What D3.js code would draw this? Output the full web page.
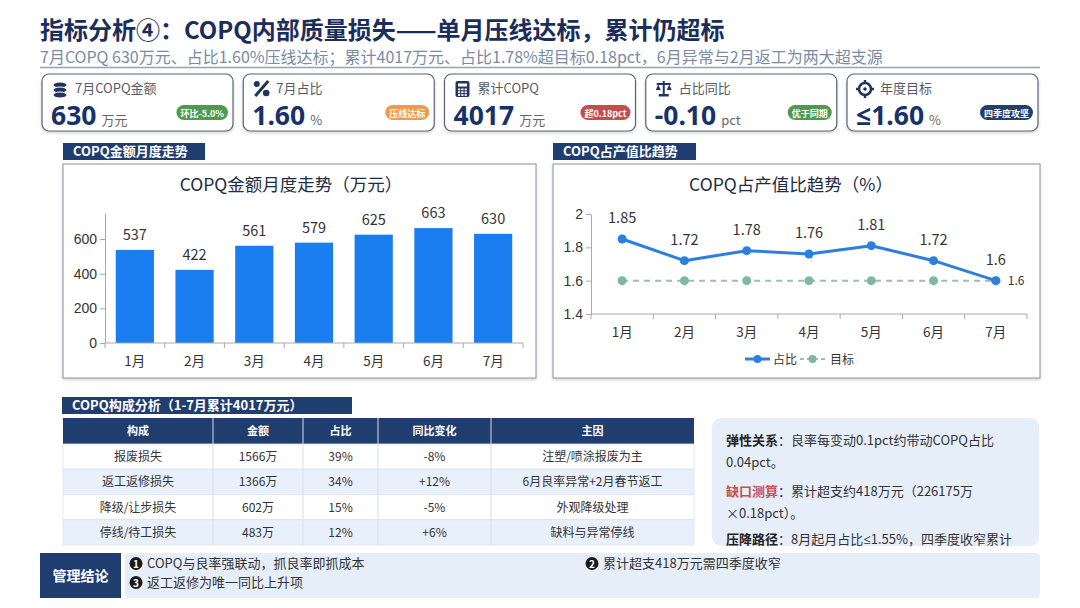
<!DOCTYPE html>
<html>
<head>
<meta charset="utf-8">
<script src="https://cdn.jsdelivr.net/npm/d3@7"></script>
<style>
  html, body { margin: 0; padding: 0; background: #fff; }
  svg { display: block; font-family: 'Noto Sans CJK SC', 'Noto Sans', sans-serif; }
</style>
</head>
<body>
<svg id="chart" width="1080" height="608"></svg>
<script>
// ---- data ----
const months = ['1月', '2月', '3月', '4月', '5月', '6月', '7月'];
const copqAmount = [537, 422, 561, 579, 625, 663, 630];
const copqRatio = [1.85, 1.72, 1.78, 1.76, 1.81, 1.72, 1.6];
const ratioTarget = [1.6, 1.6, 1.6, 1.6, 1.6, 1.6, 1.6];
const amountTicks = [0, 200, 400, 600];
const ratioTicks = [1.4, 1.6, 1.8, 2];

const kpiLabels = ['7月COPQ金额', '7月占比', '累计COPQ', '占比同比', '年度目标'];
const kpiValues = ['630', '1.60', '4017', '-0.10', '≤1.60'];
const kpiUnits = ['万元', '%', '万元', 'pct', '%'];
const kpiBadges = ['环比-5.0%', '压线达标', '超0.18pct', '优于同期', '四季度攻坚'];

const tableHeads = ['构成', '金额', '占比', '同比变化', '主因'];
const costTypes = ['报废损失', '返工返修损失', '降级/让步损失', '停线/待工损失'];
const costAmounts = ['1566万', '1366万', '602万', '483万'];
const costShares = ['39%', '34%', '15%', '12%'];
const costYoY = ['-8%', '+12%', '-5%', '+6%'];
const costCauses = ['注塑/喷涂报废为主', '6月良率异常+2月春节返工', '外观降级处理', '缺料与异常停线'];

const conclusions = ['COPQ与良率强联动，抓良率即抓成本', '累计超支418万元需四季度收窄', '返工返修为唯一同比上升项'];

// ---- styles ----
const navy = '#1f3d6e';
const titleColor = '#1b2d5b';
const valueColor = '#17316b';
const barColor = '#1b7ef0';
const lineColor = '#2d7fdf';
const targetColor = '#7db9a2';
const badgeColors = ['#4f9a50', '#ef9a4c', '#c54d4f', '#4f9a50', '#233f6c'];
const latinFont = "'Noto Sans', 'Open Sans', sans-serif";

const svg = d3.select('#chart');

const defs = svg.append('defs');
const shadow = defs.append('filter').attr('id', 'shadow')
    .attr('x', '-5%').attr('y', '-10%').attr('width', '110%').attr('height', '130%');
shadow.append('feDropShadow')
    .attr('dx', 0).attr('dy', 1.5).attr('stdDeviation', 1.5)
    .attr('flood-color', '#000').attr('flood-opacity', 0.18);

// ---- header ----
svg.append('text')
    .attr('x', 40).attr('y', 39)
    .attr('font-size', 24).attr('font-weight', 700)
    .attr('fill', titleColor)
    .text('指标分析④：COPQ内部质量损失——单月压线达标，累计仍超标');

svg.append('text')
    .attr('x', 40).attr('y', 63)
    .attr('font-size', 16)
    .attr('fill', '#7b8ba3')
    .text('7月COPQ 630万元、占比1.60%压线达标；累计4017万元、占比1.78%超目标0.18pct，6月异常与2月返工为两大超支源');

svg.append('line')
    .attr('x1', 40).attr('x2', 1040).attr('y1', 67.5).attr('y2', 67.5)
    .attr('stroke', '#9aa1aa').attr('stroke-width', 1.5);

// ---- KPI cards ----
function drawIcon(g, i) {
    const c = '#22345e';
    if (i === 0) {
        // coins
        [0, 5, 10].forEach((dy) => {
            g.append('ellipse').attr('cx', 8).attr('cy', 4 + dy).attr('rx', 7).attr('ry', 3)
                .attr('fill', c).attr('stroke', '#fff').attr('stroke-width', 1);
        });
    } else if (i === 1) {
        g.append('line').attr('x1', 15).attr('y1', 0).attr('x2', 2).attr('y2', 15)
            .attr('stroke', c).attr('stroke-width', 3);
        g.append('circle').attr('cx', 3.5).attr('cy', 3).attr('r', 3).attr('fill', c);
        g.append('circle').attr('cx', 13).attr('cy', 12).attr('r', 3.3).attr('fill', c);
    } else if (i === 2) {
        g.append('rect').attr('x', 1).attr('y', 0).attr('width', 14).attr('height', 16).attr('rx', 2).attr('fill', c);
        g.append('rect').attr('x', 3.5).attr('y', 2.5).attr('width', 9).attr('height', 3).attr('fill', '#fff');
        [0, 1, 2].forEach((r) => [0, 1, 2].forEach((k) => {
            g.append('rect').attr('x', 3.5 + k * 3.3).attr('y', 7.5 + r * 2.8)
                .attr('width', 2.2).attr('height', 1.8).attr('fill', '#fff');
        }));
    } else if (i === 3) {
        g.append('line').attr('x1', 8).attr('x2', 8).attr('y1', 0).attr('y2', 14).attr('stroke', c).attr('stroke-width', 2);
        g.append('line').attr('x1', 1).attr('x2', 15).attr('y1', 3).attr('y2', 3).attr('stroke', c).attr('stroke-width', 2);
        g.append('rect').attr('x', 3).attr('y', 13).attr('width', 10).attr('height', 2.5).attr('fill', c);
        g.append('path').attr('d', 'M0,9 L2.5,3.5 L5,9 Z').attr('fill', c);
        g.append('path').attr('d', 'M11,9 L13.5,3.5 L16,9 Z').attr('fill', c);
    } else {
        g.append('circle').attr('cx', 8).attr('cy', 8).attr('r', 6).attr('fill', 'none').attr('stroke', c).attr('stroke-width', 2.5);
        g.append('circle').attr('cx', 8).attr('cy', 8).attr('r', 1.8).attr('fill', c);
        [[8, -1, 8, 3], [8, 13, 8, 17], [-1, 8, 3, 8], [13, 8, 17, 8]].forEach((p) => {
            g.append('line').attr('x1', p[0]).attr('y1', p[1]).attr('x2', p[2]).attr('y2', p[3])
                .attr('stroke', c).attr('stroke-width', 2.5);
        });
    }
}

const cardW = 191;
const cardX = d3.scaleLinear().domain([0, 4]).range([42, 847]);

kpiLabels.forEach((label, i) => {
    const g = svg.append('g').attr('transform', `translate(${cardX(i)},74)`);
    g.append('rect')
        .attr('width', cardW).attr('height', 57).attr('rx', 7)
        .attr('fill', '#fff').attr('stroke', '#5b6476').attr('stroke-width', 1.2)
        .attr('filter', 'url(#shadow)');

    drawIcon(g.append('g').attr('transform', 'translate(10,7)'), i);

    g.append('text')
        .attr('x', 33).attr('y', 18.5)
        .attr('font-size', 13).attr('fill', '#555b66')
        .text(label);

    const val = g.append('text')
        .attr('x', 9).attr('y', 51)
        .attr('font-family', latinFont)
        .attr('font-size', 26.5).attr('font-weight', 700)
        .attr('fill', valueColor)
        .text(kpiValues[i]);
    const vw = val.node().getComputedTextLength();

    g.append('text')
        .attr('x', 9 + vw + 5).attr('y', 51)
        .attr('font-size', 13).attr('fill', '#666')
        .text(kpiUnits[i]);

    const badge = g.append('g');
    const bt = badge.append('text')
        .attr('y', 42.5)
        .attr('font-size', 9).attr('font-weight', 700)
        .attr('fill', '#fff').attr('text-anchor', 'middle')
        .text(kpiBadges[i]);
    const bw = bt.node().getComputedTextLength() + 8;
    const bx = cardW - 5 - bw;
    badge.insert('rect', 'text')
        .attr('x', bx).attr('y', 31).attr('width', bw).attr('height', 15).attr('rx', 7.5)
        .attr('fill', badgeColors[i]);
    bt.attr('x', bx + bw / 2);
});

// ---- section labels ----
function sectionLabel(x, y, w, text) {
    svg.append('rect').attr('x', x).attr('y', y).attr('width', w).attr('height', 17).attr('fill', navy);
    svg.append('text')
        .attr('x', x + 10).attr('y', y + 13)
        .attr('font-size', 13).attr('font-weight', 700).attr('fill', '#fff')
        .text(text);
}

function panel(x, y, w, h) {
    svg.append('rect').attr('x', x).attr('y', y).attr('width', w).attr('height', h)
        .attr('fill', '#fff').attr('stroke', '#8a8f98').attr('stroke-width', 1)
        .attr('filter', 'url(#shadow)');
}

sectionLabel(63, 143, 142, 'COPQ金额月度走势');
panel(63, 164, 473, 214);
sectionLabel(553, 143, 143, 'COPQ占产值比趋势');
panel(553, 164, 487, 214);

// ---- bar chart ----
const xb = d3.scaleBand().domain(months).range([105, 523]).paddingInner(0.36).paddingOuter(0.18);
const yb = d3.scaleLinear().domain([0, 750]).range([343, 213]);

svg.append('text')
    .attr('x', 291).attr('y', 191)
    .attr('text-anchor', 'middle').attr('font-size', 17.5).attr('fill', '#202c46')
    .text('COPQ金额月度走势（万元）');

const yAxisB = svg.append('g')
    .attr('transform', 'translate(105,0)')
    .call(d3.axisLeft(yb).tickValues(amountTicks).tickSize(5).tickSizeOuter(0));
yAxisB.selectAll('path, line').attr('stroke', '#aaa');
yAxisB.selectAll('text').attr('font-size', 14).attr('fill', '#333').attr('font-family', 'inherit');

svg.append('g').selectAll('rect')
    .data(copqAmount)
    .enter()
    .append('rect')
    .attr('x', (d, i) => xb(months[i]))
    .attr('y', (d) => yb(d))
    .attr('width', xb.bandwidth())
    .attr('height', (d) => yb(0) - yb(d))
    .attr('fill', barColor);

svg.append('g').selectAll('text')
    .data(copqAmount)
    .enter()
    .append('text')
    .attr('x', (d, i) => xb(months[i]) + xb.bandwidth() / 2)
    .attr('y', (d) => yb(d) - 10)
    .attr('text-anchor', 'middle').attr('font-size', 14.5).attr('fill', '#333')
    .text((d) => d);

function categoryAxis(scaleRange, y, centers) {
    const g = svg.append('g');
    const bounds = d3.scaleLinear().domain([0, months.length]).range(scaleRange);
    g.append('line')
        .attr('x1', scaleRange[0]).attr('x2', scaleRange[1]).attr('y1', y).attr('y2', y)
        .attr('stroke', '#aaa');
    g.selectAll('.tk')
        .data(bounds.ticks(months.length))
        .enter()
        .append('line')
        .attr('x1', (d) => bounds(d)).attr('x2', (d) => bounds(d))
        .attr('y1', y).attr('y2', y + 5)
        .attr('stroke', '#aaa');
    g.selectAll('.lbl')
        .data(months)
        .enter()
        .append('text')
        .attr('x', (d) => centers(d))
        .attr('y', y + 23)
        .attr('text-anchor', 'middle').attr('font-size', 13.5).attr('fill', '#333')
        .text((d) => d);
}

categoryAxis([105, 523], 343, (m) => xb(m) + xb.bandwidth() / 2);

// ---- line chart ----
const xl = d3.scalePoint().domain(months).range([591, 1027]).padding(0.5);
const yl = d3.scaleLinear().domain([1.4, 2]).range([314, 214]);

svg.append('text')
    .attr('x', 791).attr('y', 191)
    .attr('text-anchor', 'middle').attr('font-size', 17.5).attr('fill', '#202c46')
    .text('COPQ占产值比趋势（%）');

const yAxisL = svg.append('g')
    .attr('transform', 'translate(591,0)')
    .call(d3.axisLeft(yl).tickValues(ratioTicks).tickFormat(d3.format('~g')).tickSize(5).tickSizeOuter(0));
yAxisL.selectAll('path, line').attr('stroke', '#aaa');
yAxisL.selectAll('text').attr('font-size', 14).attr('fill', '#333').attr('font-family', 'inherit');

categoryAxis([591, 1027], 314, (m) => xl(m));

const line = d3.line()
    .x((d, i) => xl(months[i]))
    .y((d) => yl(d));

svg.append('path')
    .datum(ratioTarget)
    .attr('d', line)
    .attr('fill', 'none').attr('stroke', '#a9b7b3').attr('stroke-width', 2)
    .attr('stroke-dasharray', '6,5');

svg.append('g').selectAll('circle')
    .data(ratioTarget)
    .enter()
    .append('circle')
    .attr('cx', (d, i) => xl(months[i]))
    .attr('cy', (d) => yl(d))
    .attr('r', 4.5)
    .attr('fill', targetColor);

svg.append('path')
    .datum(copqRatio)
    .attr('d', line)
    .attr('fill', 'none').attr('stroke', lineColor).attr('stroke-width', 3)
    .attr('stroke-linejoin', 'round');

svg.append('g').selectAll('circle')
    .data(copqRatio)
    .enter()
    .append('circle')
    .attr('cx', (d, i) => xl(months[i]))
    .attr('cy', (d) => yl(d))
    .attr('r', 4.5)
    .attr('fill', lineColor);

svg.append('g').selectAll('text')
    .data(copqRatio)
    .enter()
    .append('text')
    .attr('x', (d, i) => xl(months[i]))
    .attr('y', (d) => yl(d) - 16)
    .attr('text-anchor', 'middle').attr('font-size', 14.5).attr('fill', '#333')
    .text((d) => d);

const lastIdx = ratioTarget.length - 1;
svg.append('text')
    .attr('x', xl(months[lastIdx]) + 12)
    .attr('y', yl(ratioTarget[lastIdx]) + 4.5)
    .attr('font-size', 12).attr('fill', '#333')
    .text(ratioTarget[lastIdx]);

// legend
const lg = svg.append('g').attr('transform', 'translate(745,359)');
lg.append('line').attr('x1', 0).attr('x2', 25).attr('y1', 0).attr('y2', 0)
    .attr('stroke', lineColor).attr('stroke-width', 3);
lg.append('circle').attr('cx', 12.5).attr('cy', 0).attr('r', 4).attr('fill', lineColor);
lg.append('text').attr('x', 28).attr('y', 4.5).attr('font-size', 12).attr('fill', '#333').text('占比');
lg.append('line').attr('x1', 55).attr('x2', 80).attr('y1', 0).attr('y2', 0)
    .attr('stroke', '#a9b7b3').attr('stroke-width', 2).attr('stroke-dasharray', '4,3');
lg.append('circle').attr('cx', 67.5).attr('cy', 0).attr('r', 4).attr('fill', targetColor);
lg.append('text').attr('x', 85).attr('y', 4.5).attr('font-size', 12).attr('fill', '#333').text('目标');

// ---- table ----
sectionLabel(62, 397, 290, 'COPQ构成分析（1-7月累计4017万元）');

const colEdges = [63, 213, 303, 378, 491, 694];
const tableRows = costTypes.map((t, i) => [t, costAmounts[i], costShares[i], costYoY[i], costCauses[i]]);
const rowY = d3.scaleLinear().domain([0, tableRows.length]).range([444, 545]);

svg.append('rect')
    .attr('x', colEdges[0]).attr('y', 418)
    .attr('width', colEdges[5] - colEdges[0]).attr('height', 26)
    .attr('fill', navy);

tableHeads.forEach((h, c) => {
    svg.append('text')
        .attr('x', (colEdges[c] + colEdges[c + 1]) / 2).attr('y', 435)
        .attr('text-anchor', 'middle').attr('font-size', 11).attr('font-weight', 700).attr('fill', '#fff')
        .text(h);
});

const rows = svg.append('g').selectAll('g')
    .data(tableRows)
    .enter()
    .append('g');

rows.append('rect')
    .attr('x', colEdges[0])
    .attr('y', (d, i) => rowY(i))
    .attr('width', colEdges[5] - colEdges[0])
    .attr('height', rowY(1) - rowY(0))
    .attr('fill', (d, i) => (i % 2 ? '#e8f0fb' : '#fff'))
    .attr('stroke', '#dbe3ee').attr('stroke-width', 0.8);

rows.each(function (row, r) {
    row.forEach((cell, c) => {
        d3.select(this).append('text')
            .attr('x', (colEdges[c] + colEdges[c + 1]) / 2)
            .attr('y', rowY(r) + 17)
            .attr('text-anchor', 'middle').attr('font-size', 12).attr('fill', '#333')
            .text(cell);
    });
});

svg.append('g').selectAll('line')
    .data(colEdges.slice(1, -1))
    .enter()
    .append('line')
    .attr('x1', (d) => d).attr('x2', (d) => d)
    .attr('y1', 418).attr('y2', 545)
    .attr('stroke', '#d6dfeb').attr('stroke-width', 1);

// ---- notes box ----
svg.append('rect')
    .attr('x', 712).attr('y', 418).attr('width', 327).attr('height', 128).attr('rx', 9)
    .attr('fill', '#e6eef9');

const notes = [
    { y: 445, key: '弹性关系', keyColor: '#222', rest: '：良率每变动0.1pct约带动COPQ占比' },
    { y: 467, key: '', keyColor: '#222', rest: '0.04pct。' },
    { y: 496, key: '缺口测算', keyColor: '#c9504f', rest: '：累计超支约418万元（226175万' },
    { y: 518, key: '', keyColor: '#222', rest: '×0.18pct）。' },
    { y: 544, key: '压降路径', keyColor: '#222', rest: '：8月起月占比≤1.55%，四季度收窄累计' }
];

notes.forEach((n) => {
    const t = svg.append('text').attr('x', 726).attr('y', n.y).attr('font-size', 13).attr('fill', '#333');
    if (n.key) {
        t.append('tspan').attr('font-weight', 700).attr('fill', n.keyColor).text(n.key);
    }
    n.rest.split('≤').forEach((part, k) => {
        if (k > 0) {
            t.append('tspan').attr('font-family', latinFont).text('≤');
        }
        t.append('tspan').text(part);
    });
});

// ---- conclusions ----
svg.append('rect').attr('x', 40).attr('y', 553).attr('width', 81).attr('height', 45).attr('fill', navy);
svg.append('text')
    .attr('x', 80.5).attr('y', 581)
    .attr('text-anchor', 'middle').attr('font-size', 14).attr('font-weight', 700).attr('fill', '#fff')
    .text('管理结论');

svg.append('rect').attr('x', 125).attr('y', 553).attr('width', 915).attr('height', 45).attr('rx', 4)
    .attr('fill', '#e6eef9');

const conclusionPos = [[136, 568], [592, 568], [136, 587]];
conclusions.forEach((c, i) => {
    const [cx, cy] = conclusionPos[i];
    svg.append('circle').attr('cx', cx).attr('cy', cy - 4.5).attr('r', 6.5).attr('fill', '#1a1a1a');
    svg.append('text')
        .attr('x', cx).attr('y', cy - 0.5)
        .attr('text-anchor', 'middle').attr('font-size', 10).attr('font-weight', 700).attr('fill', '#fff')
        .text(i + 1);
    svg.append('text')
        .attr('x', cx + 11).attr('y', cy)
        .attr('font-size', 13).attr('fill', '#333')
        .text(c);
});
</script>
</body>
</html>
